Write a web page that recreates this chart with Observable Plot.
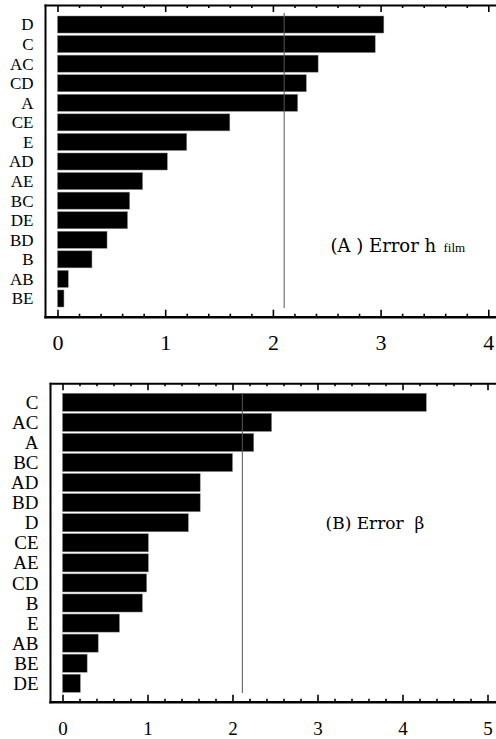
<!DOCTYPE html>
<html>
<head>
<meta charset="utf-8">
<script src="https://cdn.jsdelivr.net/npm/d3@7"></script>
<script src="https://cdn.jsdelivr.net/npm/@observablehq/plot@0.6"></script>
<style>
  html, body { margin: 0; padding: 0; background: #fff; }
  #chart svg { display: block; }
</style>
</head>
<body>
<div id="chart"></div>
<script>
// Panel A: Error h_film
const catsA = ["D","C","AC","CD","A","CE","E","AD","AE","BC","DE","BD","B","AB","BE"];
const valsA = [3.03,2.95,2.42,2.31,2.23,1.60,1.20,1.02,0.79,0.67,0.65,0.46,0.32,0.10,0.06];
const refA = [2.10];
const majorA = [0,1,2,3,4];
const minorA = [0.2,0.4,0.6,0.8,1.2,1.4,1.6,1.8,2.2,2.4,2.6,2.8,3.2,3.4,3.6,3.8];
const labelA = ["(A ) Error h"];
const subA = ["film"];

// Panel B: Error beta
const catsB = ["C","AC","A","BC","AD","BD","D","CE","AE","CD","B","E","AB","BE","DE"];
const valsB = [4.28,2.46,2.25,2.00,1.62,1.62,1.48,1.01,1.01,0.99,0.94,0.67,0.42,0.29,0.21];
const refB = [2.11];
const majorB = [0,1,2,3,4,5];
const minorB = [0.2,0.4,0.6,0.8,1.2,1.4,1.6,1.8,2.2,2.4,2.6,2.8,3.2,3.4,3.6,3.8,4.2,4.4,4.6,4.8];
const labelB = ["(B) Error  β"];

const dataA = catsA.map((c, i) => ({name: c, value: valsA[i]}));
const dataB = catsB.map((c, i) => ({name: c, value: valsB[i]}));

const SERIF = "'Liberation Serif', 'Times New Roman', serif";

function panel(cfg) {
  const plotH = cfg.height - cfg.marginTop - cfg.marginBottom;
  return Plot.plot({
    width: 496,
    height: cfg.height,
    marginLeft: cfg.marginLeft,
    marginRight: 0,
    marginTop: cfg.marginTop,
    marginBottom: cfg.marginBottom,
    style: {fontFamily: SERIF, color: "#000", background: "#fff"},
    x: {domain: cfg.xDomain, label: null},
    y: {domain: cfg.cats, range: cfg.yRange, paddingInner: cfg.pad, paddingOuter: 0, round: false, label: null},
    marks: [
      Plot.barX(cfg.data, {x: "value", y: "name", fill: "#000", stroke: "#888", strokeWidth: 0.5}),
      Plot.ruleX(cfg.ref, {x: d => d, stroke: "#555", strokeWidth: 1, insetTop: cfg.refTop, insetBottom: cfg.refBottom}),
      Plot.frame({anchor: "left", strokeWidth: 2}),
      Plot.frame({anchor: "top", strokeWidth: 2}),
      Plot.frame({anchor: "bottom", strokeWidth: 2.5}),
      Plot.ruleX(cfg.major, {x: d => d, insetTop: plotH - 7, strokeWidth: 1.6}),
      Plot.ruleX(cfg.minor, {x: d => d, insetTop: plotH - 3, strokeWidth: 1.6}),
      Plot.ruleX(cfg.major, {x: d => d, insetBottom: plotH - 7, strokeWidth: 1.6}),
      Plot.ruleX(cfg.minor, {x: d => d, insetBottom: plotH - 3, strokeWidth: 1.6}),
      Plot.axisY({tickSize: 0, tickPadding: 12, fontSize: cfg.yFont, fontFamily: SERIF, label: null}),
      Plot.axisX({anchor: "bottom", ticks: cfg.major, tickSize: 0, tickPadding: cfg.xPad, fontSize: cfg.xFont, fontFamily: SERIF, fontVariant: "normal", tickFormat: d => String(d), label: null}),
      ...cfg.extra
    ]
  });
}

const svgA = panel({
  height: 370, marginTop: 5, marginBottom: 53.3, marginLeft: 45,
  xDomain: [-0.116, 4.0715], cats: catsA, yRange: [16, 307], pad: 0.13,
  data: dataA, ref: refA, refTop: 8, refBottom: 8.7,
  major: majorA, minor: minorA, yFont: 17, xFont: 22, xPad: 17,
  extra: [
    Plot.text(labelA, {frameAnchor: "top-left", dx: 285, dy: 234, textAnchor: "start", fontSize: 18, fontFamily: "'DejaVu Serif', serif"}),
    Plot.text(subA, {frameAnchor: "top-left", dx: 398, dy: 237, textAnchor: "start", fontSize: 13, fontFamily: SERIF})
  ]
});

const svgB = panel({
  height: 369, marginTop: 13.3, marginBottom: 37.3, marginLeft: 50,
  xDomain: [-0.147, 5.1], cats: catsB, yRange: [23.3, 322.3], pad: 0.1,
  data: dataB, ref: refB, refTop: 9.7, refBottom: 8.7,
  major: majorB, minor: minorB, yFont: 19, xFont: 19, xPad: 19,
  extra: [
    Plot.text(labelB, {frameAnchor: "top-left", dx: 275, dy: 133, textAnchor: "start", fontSize: 17, fontFamily: "'DejaVu Serif', serif"})
  ]
});

document.getElementById("chart").append(svgA, svgB);
</script>
</body>
</html>
